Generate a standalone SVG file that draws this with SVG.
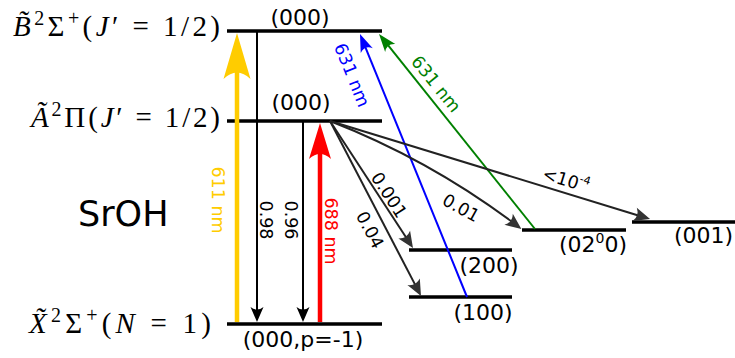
<svg xmlns="http://www.w3.org/2000/svg" width="735" height="358" viewBox="0 0 735 358">
<style>
.lvl{stroke:#000;stroke-width:3.5;fill:none}
.lab{font-family:"DejaVu Sans",Verdana,sans-serif;font-size:22px;fill:#000}
.rl{font-family:"DejaVu Sans",Verdana,sans-serif;font-size:17.5px;text-anchor:middle;dominant-baseline:central}
.math{font-family:"Liberation Serif","Times New Roman",serif;font-size:29px;fill:#000;text-anchor:end}
.it{font-style:italic}
.sup{font-size:20px}
.dn{stroke:#000;stroke-width:2;fill:none;marker-end:url(#ahK)}
.fan{stroke:#222;stroke-width:2;fill:none;marker-end:url(#ahF)}
</style>
<defs>
<marker id="ahK" markerUnits="userSpaceOnUse" orient="auto" refX="-7" refY="0" markerWidth="40" markerHeight="40" overflow="visible"><path d="M0,0 L-15,-6.5 Q-10,0 -15,6.5 Z" fill="#000"/></marker>
<marker id="ahF" markerUnits="userSpaceOnUse" orient="auto" refX="-8" refY="0" markerWidth="40" markerHeight="40" overflow="visible"><path d="M0,0 L-16,-7 Q-11,0 -16,7 Z" fill="#333"/></marker>
<marker id="ahY" markerUnits="userSpaceOnUse" orient="auto" refX="-20" refY="0" markerWidth="60" markerHeight="60" overflow="visible"><path d="M0,0 L-46,-13.5 Q-33,0 -46,13.5 Z" fill="#ffcc00"/></marker>
<marker id="ahR" markerUnits="userSpaceOnUse" orient="auto" refX="-16" refY="0" markerWidth="60" markerHeight="60" overflow="visible"><path d="M0,0 L-36,-11 Q-26,0 -36,11 Z" fill="#ff0000"/></marker>
<marker id="ahB" markerUnits="userSpaceOnUse" orient="auto" refX="-8" refY="0" markerWidth="40" markerHeight="40" overflow="visible"><path d="M0,0 L-18,-6.5 Q-12,0 -18,6.5 Z" fill="#0000ff"/></marker>
<marker id="ahG" markerUnits="userSpaceOnUse" orient="auto" refX="-8" refY="0" markerWidth="40" markerHeight="40" overflow="visible"><path d="M0,0 L-18,-6.5 Q-12,0 -18,6.5 Z" fill="#008000"/></marker>
</defs>

<g id="state-B">
<line class="lvl" x1="227" y1="31" x2="382" y2="31"/>
<text class="lab" x="300" y="25" text-anchor="middle">(000)</text>
<text class="math" x="220" y="36" textLength="207" lengthAdjust="spacing"><tspan class="it">B̃</tspan><tspan class="sup" dy="-11">2</tspan><tspan dy="11">Σ</tspan><tspan class="sup" dy="-11">+</tspan><tspan dy="11">(</tspan><tspan class="it">J</tspan>′ = 1/2)</text>
</g>
<g id="state-A">
<line class="lvl" x1="227" y1="121" x2="382" y2="121"/>
<text class="lab" x="301" y="110" text-anchor="middle">(000)</text>
<text class="math" x="220" y="127" textLength="189" lengthAdjust="spacing"><tspan class="it">Ã</tspan><tspan class="sup" dy="-11">2</tspan><tspan dy="11">Π(</tspan><tspan class="it">J</tspan>′ = 1/2)</text>
</g>
<g id="state-X">
<line class="lvl" x1="227" y1="324" x2="382" y2="324"/>
<text class="lab" x="303" y="347" text-anchor="middle">(000,p=-1)</text>
<text class="math" x="211" y="333" textLength="182" lengthAdjust="spacing"><tspan class="it">X̃</tspan><tspan class="sup" dy="-11">2</tspan><tspan dy="11">Σ</tspan><tspan class="sup" dy="-11">+</tspan><tspan dy="11">(</tspan><tspan class="it">N</tspan> = 1)</text>
</g>
<g id="state-200">
<line class="lvl" x1="409" y1="250" x2="512" y2="250"/>
<text class="lab" x="489" y="273" text-anchor="middle">(200)</text>
</g>
<g id="state-100">
<line class="lvl" x1="409" y1="297" x2="512" y2="297"/>
<text class="lab" x="483" y="320" text-anchor="middle">(100)</text>
</g>
<g id="state-0200">
<line class="lvl" x1="522" y1="230" x2="626" y2="230"/>
<text class="lab" x="559" y="252">(02<tspan font-size="14" dy="-9">0</tspan><tspan dy="9">0)</tspan></text>
</g>
<g id="state-001">
<line class="lvl" x1="632" y1="222" x2="735" y2="222"/>
<text class="lab" x="674" y="243">(001)</text>
</g>
<g id="title">
<text x="78" y="226" font-family="'DejaVu Sans',Verdana,sans-serif" font-size="35">SrOH</text>
</g>

<g id="connectors">
<line x1="237" y1="322" x2="237" y2="53" stroke="#ffcc00" stroke-width="4.5" marker-end="url(#ahY)"/>
<line x1="320" y1="322" x2="320" y2="139" stroke="#ff0000" stroke-width="4.5" marker-end="url(#ahR)"/>
<line class="dn" x1="257" y1="31" x2="257" y2="315"/>
<line class="dn" x1="303" y1="121" x2="303" y2="315"/>
<line x1="467" y1="297" x2="363" y2="41.4" stroke="#0000ff" stroke-width="2" marker-end="url(#ahB)"/>
<line x1="535" y1="229" x2="384" y2="40.2" stroke="#008000" stroke-width="2" marker-end="url(#ahG)"/>
<line class="fan" x1="330" y1="121" x2="408.6" y2="241.3"/>
<line class="fan" x1="330" y1="121" x2="417.3" y2="288.9"/>
<path class="fan" d="M330,121 Q430,160 515,224.1"/>
<line class="fan" x1="330" y1="121" x2="642.4" y2="216.7"/>

<text class="rl" fill="#ffcc00" transform="translate(218,200) rotate(90)">611 nm</text>
<text class="rl" fill="#000" transform="translate(266,220) rotate(90)">0.98</text>
<text class="rl" fill="#000" transform="translate(291,220) rotate(90)">0.96</text>
<text class="rl" fill="#ff0000" transform="translate(331,231) rotate(90)">688 nm</text>
<text class="rl" fill="#0000ff" transform="translate(352,75) rotate(68)">631 nm</text>
<text class="rl" fill="#008000" transform="translate(436,84) rotate(51)">631 nm</text>
<text class="rl" fill="#000" transform="translate(389,195) rotate(57)">0.001</text>
<text class="rl" fill="#000" transform="translate(370,230) rotate(62)">0.04</text>
<text class="rl" fill="#000" transform="translate(461,208) rotate(29)">0.01</text>
<text class="rl" fill="#000" font-size="16" transform="translate(566,180) rotate(17)">&lt;10<tspan font-size="11" dy="-6">-4</tspan></text>
</g>
</svg>
